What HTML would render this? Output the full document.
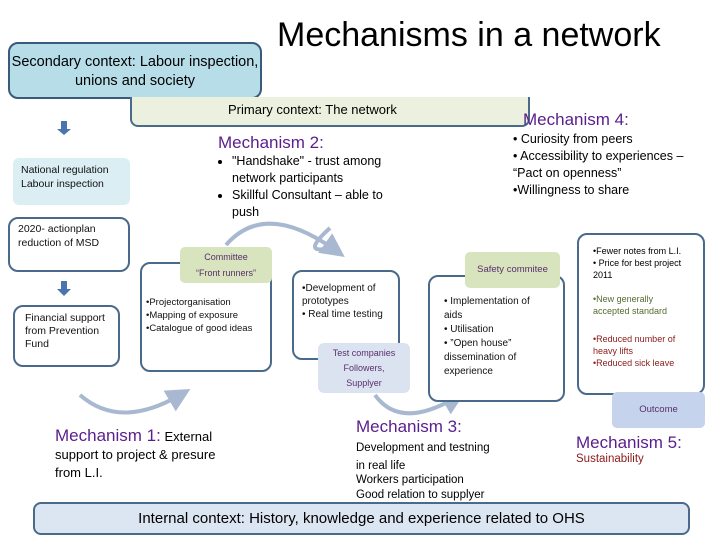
<!DOCTYPE html>
<html><head><meta charset="utf-8"><style>
body{margin:0;width:720px;height:540px;background:#fff;position:relative;overflow:hidden;font-family:"Liberation Sans",sans-serif;}
.a{position:absolute;box-sizing:border-box;}
.bx{border:2px solid #4a6a8c;border-radius:10px;background:#fff;}
.t{font-size:11px;line-height:14px;color:#111;}
.m{color:#5a1e8c;font-size:17px;}
ul{margin:0;padding-left:14px;}
</style></head><body>
<svg class="a" style="left:0;top:0" width="720" height="540">
<defs><marker id="ar" markerWidth="6" markerHeight="6" refX="3" refY="3" orient="auto"><path d="M0,0 L6,3 L0,6z" fill="#a8b8d0"/></marker></defs>
<g fill="none" stroke="#a8b8d0" stroke-width="4">
<path d="M226,245 Q265,200 335,250" marker-end="url(#ar)"/>
<path d="M80,395 Q120,430 180,395" marker-end="url(#ar)"/>
<path d="M375,395 Q400,430 455,398" marker-end="url(#ar)"/>
<path d="M330,228 Q300,255 330,248"/>
</g>
<g fill="#4a76b0"><rect x="61" y="121" width="6" height="8"/><path d="M57,129 L71,129 L64,135z"/>
<rect x="61" y="281" width="6" height="9"/><path d="M57,289 L71,289 L64,296z"/></g>
</svg>
<div class="a" style="left:8px;top:42px;width:254px;height:57px;background:#b7dde8;border:2px solid #3a5a7a;border-radius:10px;text-align:center;font-size:14.5px;line-height:19px;padding-top:9px;">Secondary context: Labour inspection, unions and society</div>
<div class="a" style="left:277px;top:16px;font-size:34px;">Mechanisms in a network</div>
<div class="a" style="left:130px;top:97px;width:400px;height:30px;background:#ebf1de;border:2px solid #4a6a8c;border-top:none;border-radius:0 0 8px 8px;font-size:13px;padding-left:96px;padding-top:5px;">Primary context: The network</div>
<div class="a m" style="left:523px;top:110px;">Mechanism 4:</div>
<div class="a" style="left:513px;top:131px;font-size:12.5px;line-height:17px;">• Curiosity from peers<br>• Accessibility to experiences –<br>“Pact on openness”<br>•Willingness to share</div>
<div class="a m" style="left:218px;top:133px;">Mechanism 2:</div>
<div class="a" style="left:218px;top:153px;font-size:12.5px;line-height:17px;width:195px;"><ul><li>"Handshake" - trust among network participants</li><li>Skillful Consultant – able to push</li></ul></div>
<div class="a t" style="left:13px;top:158px;width:117px;height:47px;background:#dbeef4;border-radius:6px;padding:5px 8px;font-size:10.5px;">National regulation Labour inspection</div>
<div class="a bx t" style="left:8px;top:217px;width:122px;height:55px;padding:3px 8px;font-size:10.5px;">2020- actionplan reduction of MSD</div>
<div class="a bx t" style="left:13px;top:305px;width:107px;height:62px;padding:5px 10px;font-size:10.5px;line-height:13px;">Financial support from Prevention Fund</div>
<div class="a bx t" style="left:140px;top:262px;width:132px;height:110px;padding:32px 4px;font-size:9.5px;line-height:13px;">•Projectorganisation<br>•Mapping of exposure<br>•Catalogue of good ideas</div>
<div class="a" style="left:180px;top:247px;width:92px;height:36px;background:#d7e4bd;border-radius:5px;text-align:center;font-size:9px;line-height:16px;color:#5a2e6e;padding-top:2px;">Committee<br>“Front runners”</div>
<div class="a bx t" style="left:292px;top:270px;width:108px;height:90px;padding:10px 8px;font-size:10px;line-height:13px;">•Development of prototypes<br>• Real time testing</div>
<div class="a" style="left:318px;top:343px;width:92px;height:50px;background:#dce3f0;border-radius:6px;text-align:center;font-size:9px;line-height:15px;color:#5a2e6e;padding-top:3px;">Test companies<br>Followers,<br>Supplyer</div>
<div class="a bx t" style="left:428px;top:275px;width:137px;height:127px;padding:18px 14px;font-size:10px;line-height:14px;">• Implementation of aids<br>• Utilisation<br>• ”Open house” dissemination of experience</div>
<div class="a" style="left:465px;top:252px;width:95px;height:36px;background:#d7e4bd;border-radius:5px;text-align:center;font-size:9.5px;line-height:36px;color:#5a2e6e;">Safety commitee</div>
<div class="a bx" style="left:577px;top:233px;width:128px;height:162px;padding:10px 14px;font-size:9px;line-height:12px;">•Fewer notes from L.I.<br>• Price for best project 2011<div style="color:#556b2f;margin-top:12px;">•New generally accepted standard</div><div style="color:#8b1a1a;margin-top:16px;">•Reduced number of heavy lifts<br>•Reduced sick leave</div></div>
<div class="a" style="left:612px;top:392px;width:93px;height:36px;background:#c5d3ec;border-radius:5px;text-align:center;font-size:9.5px;line-height:36px;color:#5a2e6e;">Outcome</div>
<div class="a" style="left:55px;top:427px;font-size:13px;line-height:18px;width:190px;"><span class="m">Mechanism 1:</span> External<br>support to project &amp; presure from L.I.</div>
<div class="a" style="left:356px;top:420px;font-size:11.5px;line-height:14.5px;"><span class="m">Mechanism 3:</span><br><span style="line-height:22px"></span>Development and testning<br>in real life<br>Workers participation<br>Good relation to supplyer</div>
<div class="a" style="left:576px;top:433px;font-size:11.5px;color:#8b1a1a;"><span class="m" style="color:#5a1e8c">Mechanism 5:</span><br>Sustainability</div>
<div class="a" style="left:33px;top:502px;width:657px;height:33px;background:#dce6f2;border:2px solid #4a6a8c;border-radius:8px;text-align:center;font-size:15px;line-height:30px;">Internal context: History, knowledge and experience related to OHS</div>
</body></html>
